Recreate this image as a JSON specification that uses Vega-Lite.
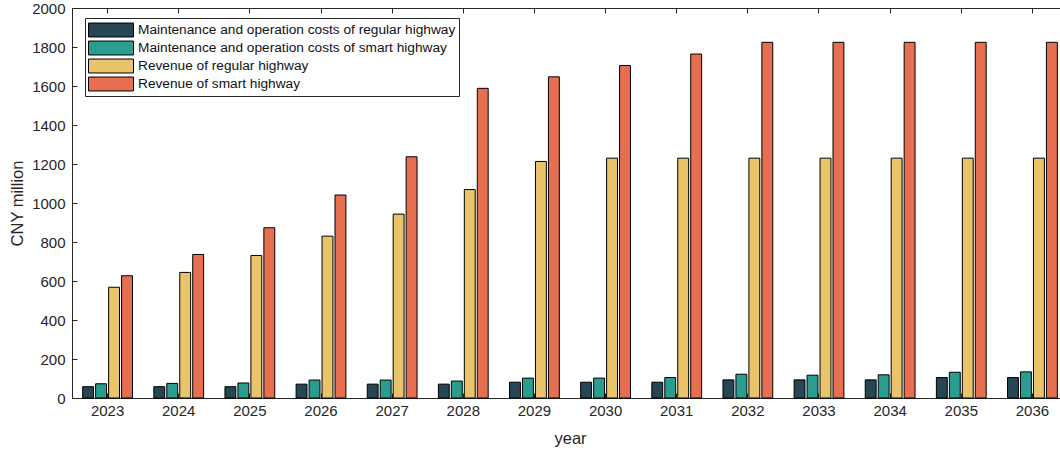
{
  "$schema": "https://vega.github.io/schema/vega-lite/v6.json",
  "autosize": {"type": "none"},
  "padding": {"left": 72, "top": 8, "right": 0, "bottom": 52},
  "width": 996,
  "height": 390,
  "config": {
    "font": "Liberation Sans",
    "view": {"stroke": "#262626", "strokeWidth": 1},
    "axis": {"domainColor": "#262626", "tickColor": "#262626", "labelColor": "#262626", "titleColor": "#262626", "labelFontSize": 15, "titleFontSize": 16.5, "titleFontWeight": "normal", "grid": false}
  },
  "data": {"values": [
    {"year": "2023", "series": "Maintenance and operation costs of regular highway", "value": 58},
    {"year": "2023", "series": "Maintenance and operation costs of smart highway", "value": 73},
    {"year": "2023", "series": "Revenue of regular highway", "value": 568},
    {"year": "2023", "series": "Revenue of smart highway", "value": 627},
    {"year": "2024", "series": "Maintenance and operation costs of regular highway", "value": 58},
    {"year": "2024", "series": "Maintenance and operation costs of smart highway", "value": 75},
    {"year": "2024", "series": "Revenue of regular highway", "value": 644},
    {"year": "2024", "series": "Revenue of smart highway", "value": 736},
    {"year": "2025", "series": "Maintenance and operation costs of regular highway", "value": 58},
    {"year": "2025", "series": "Maintenance and operation costs of smart highway", "value": 77},
    {"year": "2025", "series": "Revenue of regular highway", "value": 731},
    {"year": "2025", "series": "Revenue of smart highway", "value": 873},
    {"year": "2026", "series": "Maintenance and operation costs of regular highway", "value": 71},
    {"year": "2026", "series": "Maintenance and operation costs of smart highway", "value": 92},
    {"year": "2026", "series": "Revenue of regular highway", "value": 830},
    {"year": "2026", "series": "Revenue of smart highway", "value": 1041},
    {"year": "2027", "series": "Maintenance and operation costs of regular highway", "value": 71},
    {"year": "2027", "series": "Maintenance and operation costs of smart highway", "value": 92},
    {"year": "2027", "series": "Revenue of regular highway", "value": 943},
    {"year": "2027", "series": "Revenue of smart highway", "value": 1237},
    {"year": "2028", "series": "Maintenance and operation costs of regular highway", "value": 71},
    {"year": "2028", "series": "Maintenance and operation costs of smart highway", "value": 87},
    {"year": "2028", "series": "Revenue of regular highway", "value": 1069},
    {"year": "2028", "series": "Revenue of smart highway", "value": 1588},
    {"year": "2029", "series": "Maintenance and operation costs of regular highway", "value": 81},
    {"year": "2029", "series": "Maintenance and operation costs of smart highway", "value": 102},
    {"year": "2029", "series": "Revenue of regular highway", "value": 1213},
    {"year": "2029", "series": "Revenue of smart highway", "value": 1647},
    {"year": "2030", "series": "Maintenance and operation costs of regular highway", "value": 81},
    {"year": "2030", "series": "Maintenance and operation costs of smart highway", "value": 102},
    {"year": "2030", "series": "Revenue of regular highway", "value": 1230},
    {"year": "2030", "series": "Revenue of smart highway", "value": 1705},
    {"year": "2031", "series": "Maintenance and operation costs of regular highway", "value": 81},
    {"year": "2031", "series": "Maintenance and operation costs of smart highway", "value": 105},
    {"year": "2031", "series": "Revenue of regular highway", "value": 1230},
    {"year": "2031", "series": "Revenue of smart highway", "value": 1764},
    {"year": "2032", "series": "Maintenance and operation costs of regular highway", "value": 93},
    {"year": "2032", "series": "Maintenance and operation costs of smart highway", "value": 122},
    {"year": "2032", "series": "Revenue of regular highway", "value": 1230},
    {"year": "2032", "series": "Revenue of smart highway", "value": 1824},
    {"year": "2033", "series": "Maintenance and operation costs of regular highway", "value": 93},
    {"year": "2033", "series": "Maintenance and operation costs of smart highway", "value": 117},
    {"year": "2033", "series": "Revenue of regular highway", "value": 1230},
    {"year": "2033", "series": "Revenue of smart highway", "value": 1824},
    {"year": "2034", "series": "Maintenance and operation costs of regular highway", "value": 93},
    {"year": "2034", "series": "Maintenance and operation costs of smart highway", "value": 119},
    {"year": "2034", "series": "Revenue of regular highway", "value": 1230},
    {"year": "2034", "series": "Revenue of smart highway", "value": 1824},
    {"year": "2035", "series": "Maintenance and operation costs of regular highway", "value": 105},
    {"year": "2035", "series": "Maintenance and operation costs of smart highway", "value": 132},
    {"year": "2035", "series": "Revenue of regular highway", "value": 1230},
    {"year": "2035", "series": "Revenue of smart highway", "value": 1824},
    {"year": "2036", "series": "Maintenance and operation costs of regular highway", "value": 105},
    {"year": "2036", "series": "Maintenance and operation costs of smart highway", "value": 134},
    {"year": "2036", "series": "Revenue of regular highway", "value": 1230},
    {"year": "2036", "series": "Revenue of smart highway", "value": 1824}
  ]},
  "layer": [
    {
      "mark": {"type": "bar", "stroke": "black", "strokeWidth": 1},
      "encoding": {
        "x": {"field": "year", "type": "nominal", "scale": {"paddingInner": 0.3, "paddingOuter": 0.15},
              "axis": {"title": "year", "labelAngle": 0, "tickSize": -5, "labelPadding": 10, "titlePadding": 12, "domain": true}},
        "xOffset": {"field": "series", "type": "nominal", "sort": null, "scale": {"paddingInner": 0.16, "paddingOuter": 0}},
        "y": {"field": "value", "type": "quantitative", "scale": {"domain": [0, 2000], "nice": false},
              "axis": {"title": "CNY million", "format": "d", "values": [0,200,400,600,800,1000,1200,1400,1600,1800,2000], "tickSize": -5, "labelPadding": 12, "titlePadding": 6}},
        "color": {"field": "series", "type": "nominal", "sort": null,
          "scale": {"domain": ["Maintenance and operation costs of regular highway", "Maintenance and operation costs of smart highway", "Revenue of regular highway", "Revenue of smart highway"],
                    "range": ["#264653", "#2a9d8f", "#e9c46a", "#e76f51"]},
          "legend": {"title": null, "orient": "none", "legendX": 13, "legendY": 10, "padding": 3, "strokeColor": "#262626", "fillColor": "white",
                     "symbolType": "M-1,-0.31H1V0.31H-1Z", "symbolSize": 2025, "symbolStrokeColor": "black", "symbolStrokeWidth": 1, "symbolOpacity": 1,
                     "labelFontSize": 13.7, "labelColor": "#111", "labelOffset": 4, "clipHeight": 18, "rowPadding": 0, "labelLimit": 500}}
      }
    },
    {
      "mark": {"type": "tick", "opacity": 0},
      "encoding": {
        "x": {"field": "year", "type": "nominal", "axis": {"orient": "top", "labels": false, "title": null, "tickSize": -5, "domain": false}}
      }
    }
  ],
  "resolve": {"axis": {"x": "independent"}}
}
